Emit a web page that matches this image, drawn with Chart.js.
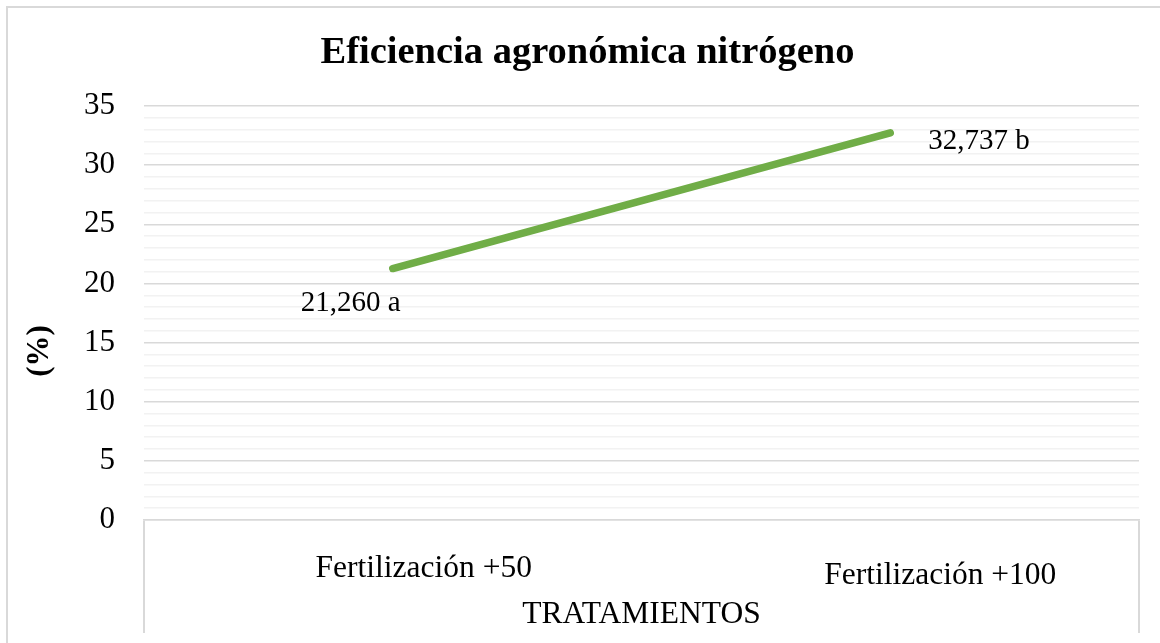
<!DOCTYPE html>
<html>
<head>
<meta charset="utf-8">
<script src="https://cdn.jsdelivr.net/npm/chart.js@4/dist/chart.umd.min.js"></script>
<style>
  html, body { margin: 0; padding: 0; background: #ffffff; }
  #wrap { position: relative; width: 1160px; height: 643px; overflow: hidden; }
  #frame { position: absolute; left: 6px; top: 6px; width: 1300px; height: 800px;
           border-left: 2px solid #d9d9d9; border-top: 2px solid #d9d9d9; box-sizing: border-box; }
  canvas { position: absolute; left: 0; top: 0; }
</style>
</head>
<body>
<div id="wrap">
  <div id="frame"></div>
  <canvas id="c" width="1160" height="643"></canvas>
</div>
<script>
// ---- data ----
const categories = ['Fertilización +50', 'Fertilización +100'];
const values = [21.260, 32.737];
const pointLabels = ['21,260 a', '32,737 b'];
const chartTitle = 'Eficiencia agronómica nitrógeno';
const xTitle = 'TRATAMIENTOS';
const yTitle = '(%)';
const yMin = 0, yMax = 35, yMajorStep = 5, yMinorStep = 1;

const SERIF = '"Liberation Serif", "Times New Roman", serif';

const labelsPlugin = {
  id: 'customLabels',
  afterDatasetsDraw(chart) {
    const ctx = chart.ctx;
    const meta = chart.getDatasetMeta(0);
    const xs = chart.scales.x;
    const ys = chart.scales.y;
    ctx.save();
    ctx.fillStyle = '#000000';
    // point data labels
    ctx.font = '29px ' + SERIF;
    ctx.textBaseline = 'middle';
    const p0 = meta.data[0], p1 = meta.data[1];
    ctx.textAlign = 'center';
    ctx.fillText(pointLabels[0], p0.x - 42, p0.y + 35);
    ctx.textAlign = 'left';
    ctx.fillText(pointLabels[1], p1.x + 38, p1.y + 9);
    // category labels
    ctx.font = '31.5px ' + SERIF;
    ctx.textAlign = 'center';
    ctx.fillText(categories[0], xs.getPixelForValue(0) + 31, xs.top + 49);
    ctx.fillText(categories[1], xs.getPixelForValue(1) + 50, xs.top + 56);
    // y axis title (sits lower than the plot centre, as in the reference)
    ctx.font = 'bold 31px ' + SERIF;
    ctx.translate(ys.left + 4, (ys.top + ys.bottom) / 2 + 38);
    ctx.rotate(-Math.PI / 2);
    ctx.fillText(yTitle, 0, 0);
    ctx.restore();
  }
};

new Chart(document.getElementById('c'), {
  type: 'line',
  data: {
    labels: categories,
    datasets: [{
      data: values,
      borderColor: '#70AD47',
      borderWidth: 7.5,
      borderCapStyle: 'round',
      pointRadius: 0,
      pointHoverRadius: 0,
      tension: 0,
      fill: false
    }]
  },
  plugins: [labelsPlugin],
  options: {
    responsive: false,
    animation: false,
    events: [],
    layout: { padding: { left: 36, right: 21, top: 0, bottom: 0 } },
    plugins: {
      legend: { display: false },
      tooltip: { enabled: false },
      title: {
        display: true,
        text: chartTitle,
        color: '#000000',
        font: { family: SERIF, size: 38.5, weight: 'bold', lineHeight: 1.2 },
        padding: { top: 30, bottom: 29.8 }
      }
    },
    scales: {
      x: {
        type: 'category',
        offset: true,
        afterFit(scale) { scale.height = 123; },
        grid: {
          offset: true,
          drawOnChartArea: false,
          drawTicks: true,
          tickLength: 113,
          lineWidth: 2,
          color: (c) => (c.index === 1 ? 'rgba(0,0,0,0)' : '#d9d9d9')
        },
        border: { display: true, color: '#d9d9d9', width: 1.5 },
        ticks: { display: false },
        title: {
          display: true,
          text: xTitle,
          color: '#000000',
          font: { family: SERIF, size: 31.5, lineHeight: 1.2 },
          padding: { top: 0, bottom: 9 }
        }
      },
      y: {
        min: yMin,
        max: yMax,
        afterFit(scale) { scale.width = 108; },
        border: { display: false },
        grid: {
          drawTicks: false,
          lineWidth: 1.5,
          color: (c) => (c.tick && c.tick.value % yMajorStep === 0 ? '#d9d9d9' : '#f2f2f2')
        },
        ticks: {
          stepSize: yMinorStep,
          maxTicksLimit: 100,
          autoSkip: false,
          padding: 29,
          color: '#000000',
          font: { family: SERIF, size: 31 },
          callback: (v) => (v % yMajorStep === 0 ? String(v) : '')
        },
        title: { display: false }
      }
    }
  }
});
</script>
</body>
</html>
